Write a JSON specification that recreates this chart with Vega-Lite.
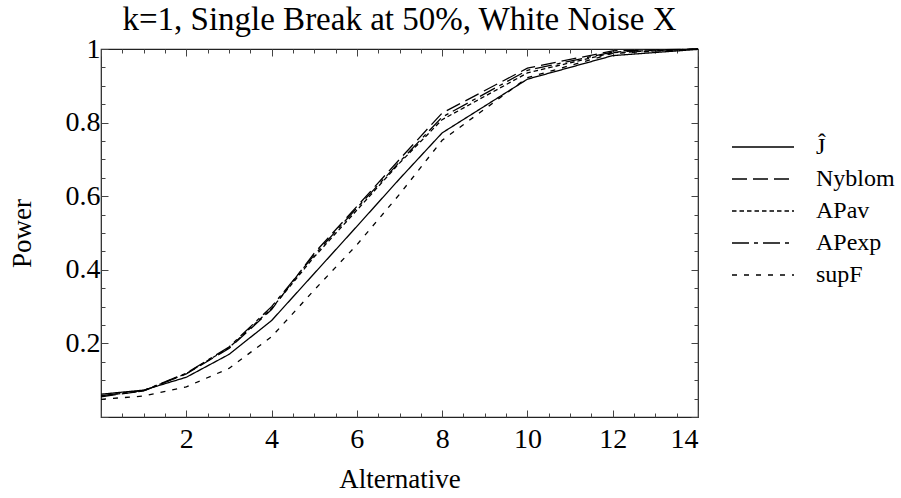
{
  "$schema": "https://vega.github.io/schema/vega-lite/v6.json",
  "autosize": {"type": "none"},
  "padding": {"left": 101, "top": 49, "right": 203, "bottom": 81},
  "width": 597,
  "height": 368,
  "config": {
    "font": "Liberation Serif",
    "view": {"stroke": "#222", "strokeWidth": 1.2},
    "axis": {"labelColor": "#000", "titleColor": "#000", "tickColor": "#444", "domain": false, "grid": false, "labelFont": "Liberation Serif", "titleFont": "Liberation Serif", "titleFontWeight": "normal"},
    "legend": {"labelFont": "Liberation Serif"}
  },
  "title": {"text": "k=1, Single Break at 50%, White Noise X", "fontSize": 33, "fontWeight": "normal", "font": "Liberation Serif", "color": "#000", "offset": -2},
  "data": {"values": [
    {"x": 0, "power": 0.062, "series": "Ĵ"},
    {"x": 1, "power": 0.073, "series": "Ĵ"},
    {"x": 2, "power": 0.108, "series": "Ĵ"},
    {"x": 3, "power": 0.170, "series": "Ĵ"},
    {"x": 4, "power": 0.262, "series": "Ĵ"},
    {"x": 5, "power": 0.390, "series": "Ĵ"},
    {"x": 6, "power": 0.518, "series": "Ĵ"},
    {"x": 7, "power": 0.647, "series": "Ĵ"},
    {"x": 8, "power": 0.772, "series": "Ĵ"},
    {"x": 10, "power": 0.918, "series": "Ĵ"},
    {"x": 12, "power": 0.982, "series": "Ĵ"},
    {"x": 14, "power": 0.999, "series": "Ĵ"},
    {"x": 0, "power": 0.055, "series": "Nyblom"},
    {"x": 1, "power": 0.071, "series": "Nyblom"},
    {"x": 2, "power": 0.117, "series": "Nyblom"},
    {"x": 3, "power": 0.186, "series": "Nyblom"},
    {"x": 4, "power": 0.292, "series": "Nyblom"},
    {"x": 5, "power": 0.445, "series": "Nyblom"},
    {"x": 6, "power": 0.572, "series": "Nyblom"},
    {"x": 7, "power": 0.700, "series": "Nyblom"},
    {"x": 8, "power": 0.826, "series": "Nyblom"},
    {"x": 10, "power": 0.948, "series": "Nyblom"},
    {"x": 12, "power": 0.995, "series": "Nyblom"},
    {"x": 14, "power": 1.0, "series": "Nyblom"},
    {"x": 0, "power": 0.057, "series": "APav"},
    {"x": 1, "power": 0.071, "series": "APav"},
    {"x": 2, "power": 0.118, "series": "APav"},
    {"x": 3, "power": 0.188, "series": "APav"},
    {"x": 4, "power": 0.295, "series": "APav"},
    {"x": 5, "power": 0.435, "series": "APav"},
    {"x": 6, "power": 0.562, "series": "APav"},
    {"x": 7, "power": 0.690, "series": "APav"},
    {"x": 8, "power": 0.808, "series": "APav"},
    {"x": 10, "power": 0.935, "series": "APav"},
    {"x": 12, "power": 0.990, "series": "APav"},
    {"x": 14, "power": 1.0, "series": "APav"},
    {"x": 0, "power": 0.058, "series": "APexp"},
    {"x": 1, "power": 0.072, "series": "APexp"},
    {"x": 2, "power": 0.119, "series": "APexp"},
    {"x": 3, "power": 0.190, "series": "APexp"},
    {"x": 4, "power": 0.300, "series": "APexp"},
    {"x": 5, "power": 0.440, "series": "APexp"},
    {"x": 6, "power": 0.568, "series": "APexp"},
    {"x": 7, "power": 0.693, "series": "APexp"},
    {"x": 8, "power": 0.815, "series": "APexp"},
    {"x": 10, "power": 0.942, "series": "APexp"},
    {"x": 12, "power": 0.992, "series": "APexp"},
    {"x": 14, "power": 1.0, "series": "APexp"},
    {"x": 0, "power": 0.048, "series": "supF"},
    {"x": 1, "power": 0.057, "series": "supF"},
    {"x": 2, "power": 0.082, "series": "supF"},
    {"x": 3, "power": 0.132, "series": "supF"},
    {"x": 4, "power": 0.218, "series": "supF"},
    {"x": 5, "power": 0.345, "series": "supF"},
    {"x": 6, "power": 0.468, "series": "supF"},
    {"x": 7, "power": 0.605, "series": "supF"},
    {"x": 8, "power": 0.752, "series": "supF"},
    {"x": 10, "power": 0.922, "series": "supF"},
    {"x": 12, "power": 0.988, "series": "supF"},
    {"x": 14, "power": 1.0, "series": "supF"}
  ]},
  "layer": [
    {
      "mark": {"type": "line", "color": "#000", "strokeWidth": 1.3},
      "encoding": {
        "x": {"field": "x", "type": "quantitative", "scale": {"domain": [0, 14], "nice": false, "zero": false},
          "axis": {"orient": "bottom", "title": "Alternative", "titleFontSize": 27, "titlePadding": 13, "labelFontSize": 28, "labelPadding": 15,
            "values": [0,0.5,1,1.5,2,2.5,3,3.5,4,4.5,5,5.5,6,6.5,7,7.5,8,8.5,9,9.5,10,10.5,11,11.5,12,12.5,13,13.5,14],
            "labelExpr": "(datum.value > 0 && datum.value % 2 === 0) ? format(datum.value, 'd') : ''",
            "tickSize": {"condition": {"test": "datum.value % 2 === 0", "value": -7}, "value": -4}}},
        "y": {"field": "power", "type": "quantitative", "scale": {"domain": [0, 1], "nice": false, "zero": false},
          "axis": {"orient": "left", "title": "Power", "titleFontSize": 27, "titlePadding": 29, "labelFontSize": 28, "labelPadding": 8,
            "values": [0,0.05,0.1,0.15,0.2,0.25,0.3,0.35,0.4,0.45,0.5,0.55,0.6,0.65,0.7,0.75,0.8,0.85,0.9,0.95,1],
            "labelExpr": "(datum.value > 0 && round(datum.value*20) % 4 === 0) ? (datum.value === 1 ? '1' : format(datum.value, '.1f')) : ''",
            "tickSize": {"condition": {"test": "round(datum.value*20) % 4 === 0", "value": -7}, "value": -4}}},
        "strokeDash": {"field": "series", "type": "nominal",
          "scale": {"domain": ["Ĵ", "Nyblom", "APav", "APexp", "supF"], "range": [[1, 0], [15, 6], [4.5, 3], [17, 5, 4, 5], [5, 7]]},
          "legend": {"title": null, "orient": "none", "legendX": 650, "legendY": 86, "symbolType": "M-3.1,0H3.1", "symbolSize": 400,
            "symbolStrokeColor": "#000", "symbolStrokeWidth": 1.3, "labelFontSize": 24, "labelOffset": 41, "rowPadding": 8, "labelColor": "#000"}}
      }
    },
    {
      "mark": {"type": "point", "opacity": 0},
      "encoding": {
        "x": {"field": "x", "type": "quantitative",
          "axis": {"orient": "top", "title": null, "labels": false,
            "values": [0,0.5,1,1.5,2,2.5,3,3.5,4,4.5,5,5.5,6,6.5,7,7.5,8,8.5,9,9.5,10,10.5,11,11.5,12,12.5,13,13.5,14],
            "tickSize": {"condition": {"test": "datum.value % 2 === 0", "value": -7}, "value": -4}}},
        "y": {"field": "power", "type": "quantitative",
          "axis": {"orient": "right", "title": null, "labels": false,
            "values": [0,0.05,0.1,0.15,0.2,0.25,0.3,0.35,0.4,0.45,0.5,0.55,0.6,0.65,0.7,0.75,0.8,0.85,0.9,0.95,1],
            "tickSize": {"condition": {"test": "round(datum.value*20) % 4 === 0", "value": -7}, "value": -4}}}
      }
    }
  ],
  "resolve": {"axis": {"x": "independent", "y": "independent"}}
}
